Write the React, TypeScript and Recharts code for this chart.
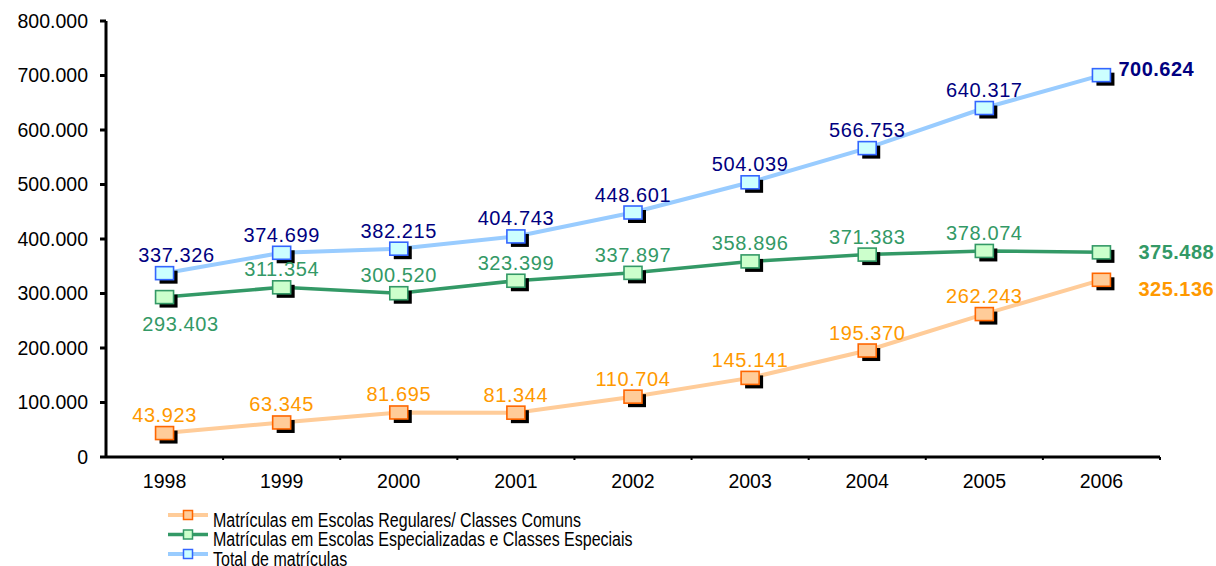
import React from 'react';
import { LineChart, Line, XAxis, YAxis, LabelList } from 'recharts';

const years = ['1998', '1999', '2000', '2001', '2002', '2003', '2004', '2005', '2006'];
const regulares = [43923, 63345, 81695, 81344, 110704, 145141, 195370, 262243, 325136];
const especializadas = [293403, 311354, 300520, 323399, 337897, 358896, 371383, 378074, 375488];
const total = [337326, 374699, 382215, 404743, 448601, 504039, 566753, 640317, 700624];
const yTicks = [0, 100000, 200000, 300000, 400000, 500000, 600000, 700000, 800000];

const legendNames = [
    'Matrículas em Escolas Regulares/ Classes Comuns',
    'Matrículas em Escolas Especializadas e Classes Especiais',
    'Total de matrículas'
];

const data = years.map((year, i) => ({
    year,
    regulares: regulares[i],
    especializadas: especializadas[i],
    total: total[i]
}));

const FONT = 'Liberation Sans, Arial, sans-serif';
const STEP = 1054 / 9;

// pt-BR style thousands separator
const fmt = (v: number) => String(v).replace(/\B(?=(\d{3})+(?!\d))/g, '.');

const series = [
    { key: 'regulares', line: '#FFCC99', fill: '#FFCC99', stroke: '#FF6600', text: '#FF9900', width: 4, last: { dx: 37, dy: 16 } },
    { key: 'especializadas', line: '#339966', fill: '#CCFFCC', stroke: '#339966', text: '#339966', width: 3.5, last: { dx: 37, dy: 7 } },
    { key: 'total', line: '#99CCFF', fill: '#CCFFFF', stroke: '#3366FF', text: '#000080', width: 4, last: { dx: 17, dy: 1 } }
];

const makeDot = (fill: string, stroke: string) => (props: any) => {
    const { cx, cy, index } = props;
    if (cx == null || cy == null) return <g key={index} />;
    return (
        <g key={index}>
            <rect x={cx - 9 + 4} y={cy - 6.5 + 4} width={18} height={13} fill="#000" />
            <rect x={cx - 9} y={cy - 6.5} width={18} height={13} fill={fill} stroke={stroke} strokeWidth={1.6} />
        </g>
    );
};

const makeLabel = (s: typeof series[number]) => (props: any) => {
    const { x, y, value, index } = props;
    if (index === years.length - 1) {
        return (
            <text x={x + s.last.dx} y={y + s.last.dy} fill={s.text} fontSize={20} fontWeight="bold" fontFamily={FONT} letterSpacing={0.5} textAnchor="start">
                {fmt(value)}
            </text>
        );
    }
    let dx = 0;
    let dy = -11;
    if (index === 0 && s.key === 'especializadas') {
        dx = 16;
        dy = 34;
    } else if (index === 0 && s.key === 'total') {
        dx = 12;
    }
    return (
        <text x={x + dx} y={y + dy} fill={s.text} fontSize={20} fontFamily={FONT} letterSpacing={0.6} textAnchor="middle">
            {fmt(value)}
        </text>
    );
};

const YearTick = (props: any) => {
    const { x, y, payload } = props;
    return (
        <g>
            <line x1={x + STEP / 2} x2={x + STEP / 2} y1={y} y2={y + 3} stroke="#000" strokeWidth={2} />
            <text x={x} y={y + 31} textAnchor="middle" fontSize={19.5} fontFamily={FONT} fill="#000">
                {payload.value}
            </text>
        </g>
    );
};

const App: React.FC = () => {
    return (
        <div style={{ position: 'absolute', left: 0, top: 0, width: 1216, height: 566, background: '#fff', overflow: 'hidden' }}>
            <LineChart width={1216} height={566} data={data} margin={{ top: 21, right: 56, left: 0, bottom: 0 }}>
                <XAxis
                    dataKey="year"
                    height={109}
                    padding={{ left: STEP / 2, right: STEP / 2 }}
                    axisLine={{ stroke: '#000', strokeWidth: 3 }}
                    tickLine={false}
                    tickSize={0}
                    tickMargin={0}
                    interval={0}
                    tick={<YearTick />}
                />
                <YAxis
                    width={106}
                    domain={[0, 800000]}
                    ticks={yTicks}
                    interval={0}
                    tickFormatter={fmt}
                    axisLine={{ stroke: '#000', strokeWidth: 3 }}
                    tickLine={{ stroke: '#000', strokeWidth: 3 }}
                    tickSize={6}
                    tickMargin={12}
                    tick={{ fontSize: 19.5, fill: '#000', fontFamily: FONT }}
                />
                {series.map(s => (
                    <Line
                        key={s.key}
                        type="linear"
                        dataKey={s.key}
                        stroke={s.line}
                        strokeWidth={s.width}
                        dot={makeDot(s.fill, s.stroke)}
                        activeDot={false}
                        isAnimationActive={false}
                    >
                        <LabelList dataKey={s.key} content={makeLabel(s)} />
                    </Line>
                ))}
            </LineChart>
            <svg width={1216} height={566} style={{ position: 'absolute', left: 0, top: 0, pointerEvents: 'none' }}>
                {series.map((s, i) => {
                    const ly = 515 + i * 19.5;
                    return (
                        <g key={s.key}>
                            <line x1={168} x2={208} y1={ly} y2={ly} stroke={s.line} strokeWidth={s.width} />
                            <rect x={183.5} y={ly - 4.5} width={9} height={9} fill={s.fill} stroke={s.stroke} strokeWidth={1.5} />
                            <text
                                transform={`translate(213, ${ly + 11.7}) scale(1, 1.3)`}
                                fontSize={16}
                                fontFamily={FONT}
                                fill="#000"
                            >
                                {legendNames[i]}
                            </text>
                        </g>
                    );
                })}
            </svg>
        </div>
    );
};

export default App;
